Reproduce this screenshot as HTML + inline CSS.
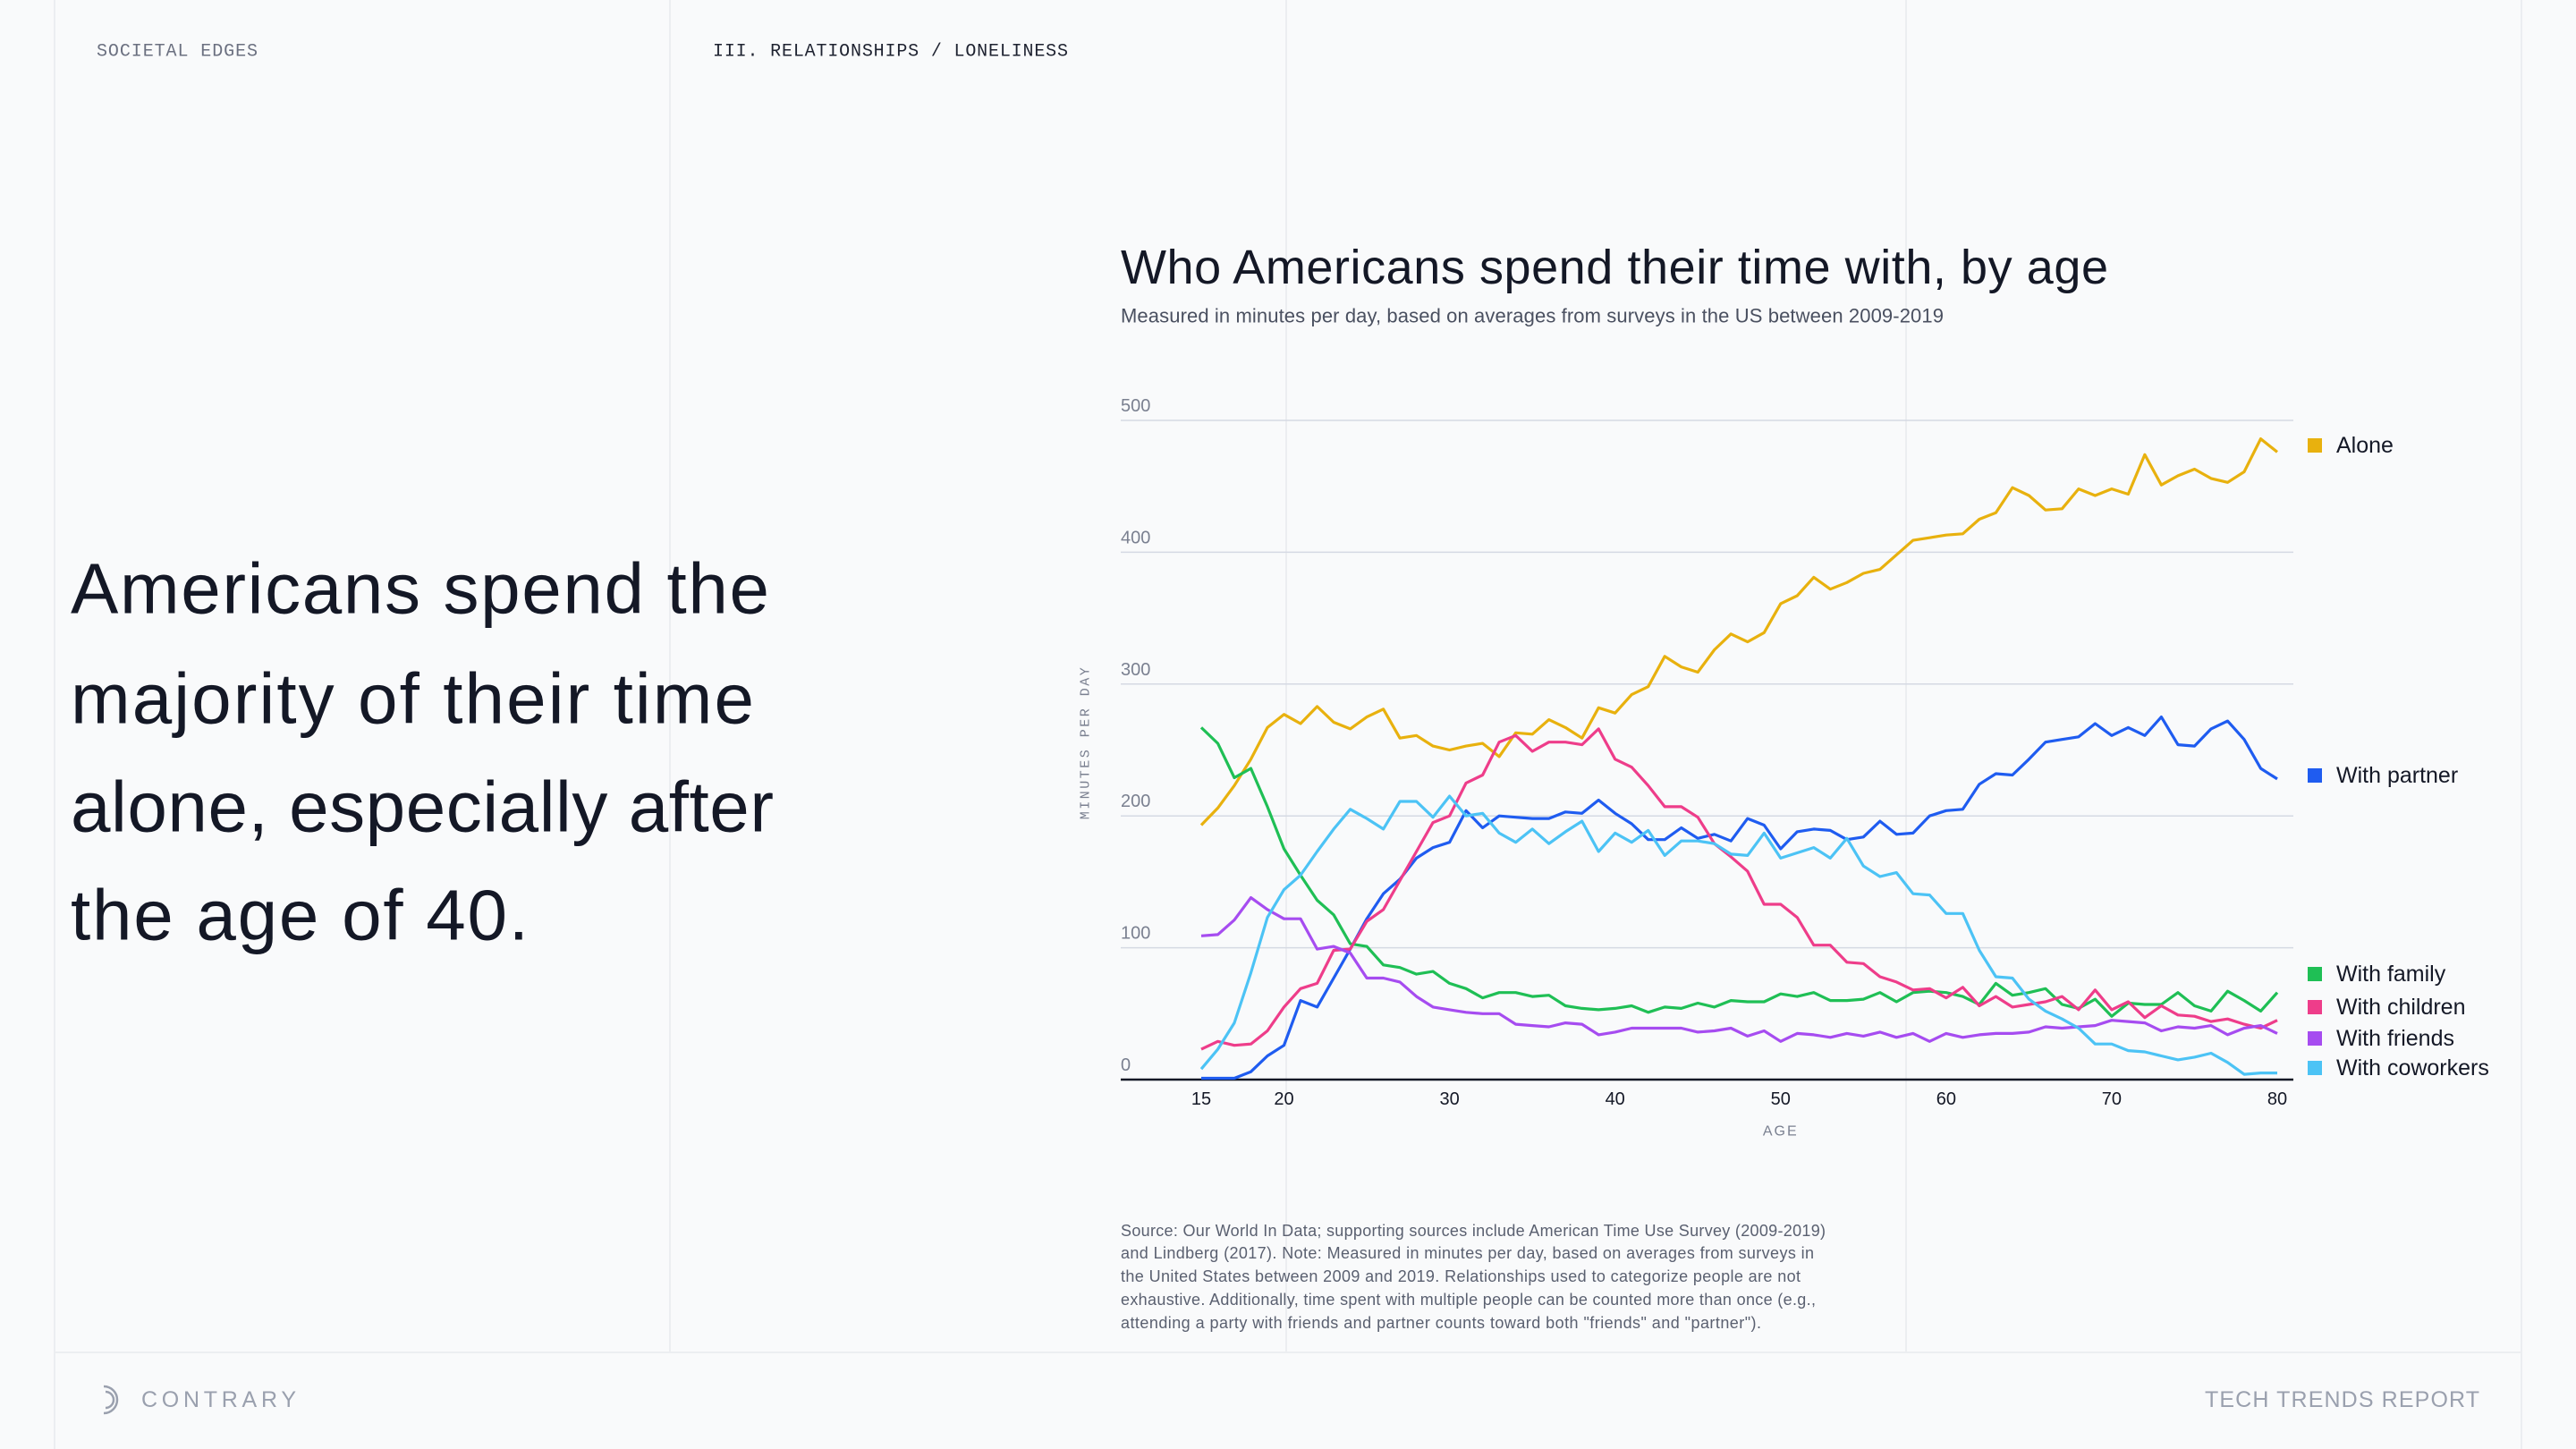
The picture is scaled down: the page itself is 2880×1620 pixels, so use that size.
<!DOCTYPE html>
<html><head><meta charset="utf-8"><style>
html,body{margin:0;padding:0;background:#f9fafb;}
svg{display:block;}
text{font-family:"Liberation Sans",sans-serif;}
.mono{font-family:"Liberation Mono",monospace;}
</style></head><body>
<svg id="page" width="2880" height="1620" viewBox="0 0 2880 1620" xmlns="http://www.w3.org/2000/svg">
<rect width="2880" height="1620" fill="#f9fafb"/>
<g stroke="#eceef1" stroke-width="2">
<line x1="61" y1="0" x2="61" y2="1620"/><line x1="749" y1="0" x2="749" y2="1512"/>
<line x1="1438" y1="0" x2="1438" y2="1512"/><line x1="2131" y1="0" x2="2131" y2="1512"/>
<line x1="2819" y1="0" x2="2819" y2="1620"/><line x1="61" y1="1512" x2="2819" y2="1512"/>
</g>
<text class="mono" x="108" y="58" dominant-baseline="central" font-size="20" fill="#6b7080" textLength="180">SOCIETAL EDGES</text>
<text class="mono" x="797" y="58" dominant-baseline="central" font-size="20" fill="#1e2230" textLength="397">III. RELATIONSHIPS / LONELINESS</text>
<g font-size="80" fill="#141826">
<text x="79" y="658" dominant-baseline="central" textLength="781">Americans spend the</text>
<text x="79" y="781" dominant-baseline="central" textLength="764">majority of their time</text>
<text x="79" y="902" dominant-baseline="central" textLength="786">alone, especially after</text>
<text x="79" y="1023" dominant-baseline="central" textLength="512">the age of 40.</text>
</g>
<text x="1253" y="299" dominant-baseline="central" font-size="54" fill="#141826" textLength="1104">Who Americans spend their time with, by age</text>
<text x="1253" y="353" dominant-baseline="central" font-size="22" fill="#4a5060" textLength="920">Measured in minutes per day, based on averages from surveys in the US between 2009-2019</text>
<g id="chart"></g>
<g font-size="18" fill="#5a6070">
<text x="1253" y="1376" dominant-baseline="central" textLength="788">Source: Our World In Data; supporting sources include American Time Use Survey (2009-2019)</text>
<text x="1253" y="1401" dominant-baseline="central" textLength="775">and Lindberg (2017). Note: Measured in minutes per day, based on averages from surveys in</text>
<text x="1253" y="1427" dominant-baseline="central" textLength="760">the United States between 2009 and 2019. Relationships used to categorize people are not</text>
<text x="1253" y="1453" dominant-baseline="central" textLength="777">exhaustive. Additionally, time spent with multiple people can be counted more than once (e.g.,</text>
<text x="1253" y="1479" dominant-baseline="central" textLength="716">attending a party with friends and partner counts toward both "friends" and "partner").</text>
</g>
<g fill="none" stroke="#9aa0ae" stroke-width="2.5">
<path d="M 116 1550 A 15 15 0 1 1 116 1580"/><path d="M 118 1556 A 9 9 0 1 1 118 1574"/>
</g>
<text x="158" y="1565" dominant-baseline="central" font-size="25" fill="#9aa0ae" textLength="173">CONTRARY</text>
<text x="2465" y="1565" dominant-baseline="central" font-size="25" fill="#9aa0ae" textLength="307">TECH TRENDS REPORT</text>
</svg>
<script>
const ages = [];
for (let a = 15; a <= 80; a++) ages.push(a);
const yTicks = [0,100,200,300,400,500];
const xTicks = [15,20,30,40,50,60,70,80];
const alone = [193,206,223,243,267,277,270,283,271,266,275,281,259,261,253,250,253,255,245,263,262,273,267,259,282,278,292,298,321,313,309,326,338,332,339,361,367,381,372,377,384,387,398,409,411,413,414,425,430,449,443,432,433,448,443,448,444,474,451,458,463,456,453,461,486,476];
const partner = [1,1,1,6,18,26,60,55,77,99,122,141,152,168,176,180,204,191,200,199,198,198,203,202,212,202,194,182,182,191,183,186,181,198,193,175,188,190,189,182,184,196,186,187,200,204,205,224,232,231,243,256,258,260,270,261,267,261,275,254,253,266,272,258,236,228];
const family = [267,255,229,236,207,175,155,136,125,103,101,87,85,80,82,73,69,62,66,66,63,64,56,54,53,54,56,51,55,54,58,55,60,59,59,65,63,66,60,60,61,66,59,66,67,66,63,57,73,64,66,69,57,54,61,48,58,57,57,66,56,52,67,60,52,66];
const children = [23,29,26,27,37,55,69,73,98,99,120,129,151,173,195,200,225,231,256,261,249,256,256,254,266,243,237,223,207,207,199,179,169,158,133,133,123,102,102,89,88,78,74,68,69,62,70,56,63,55,57,59,63,53,68,53,59,47,56,49,48,44,46,42,39,45];
const friends = [109,110,121,138,129,122,122,99,101,96,77,77,74,63,55,53,51,50,50,42,41,40,43,42,34,36,39,39,39,39,36,37,39,33,37,29,35,34,32,35,33,36,32,35,29,35,32,34,35,35,36,40,39,40,41,45,44,43,37,40,39,41,34,39,41,35];
const coworkers = [8,23,43,81,123,144,155,173,190,205,198,190,211,211,199,215,200,202,187,180,190,179,188,196,173,187,180,189,170,181,181,179,171,170,187,168,172,176,168,183,162,154,157,141,140,126,126,98,78,77,61,52,46,39,27,27,22,21,18,15,17,20,13,4,5,5];
const seriesNames = ["Alone","With partner","With family","With children","With friends","With coworkers"];
const seriesColors = ["#e8b10e","#1f5cf0","#1fbf55","#ee3d8a","#a64cf0","#4cc3f5"];
const seriesData = [alone, partner, family, children, friends, coworkers];
const legendY = [498,867,1089,1126,1161,1194];

const NS = "http://www.w3.org/2000/svg";
const g = document.getElementById('chart');
const X0 = 1343, X1 = 2546, Y0 = 1207, Y1 = 470;
const xs = a => X0 + (a - 15) * (X1 - X0) / 65;
const ys = v => Y0 - v * (Y0 - Y1) / 500;
function mk(tag, attrs, parent) {
  const e = document.createElementNS(NS, tag);
  for (const k in attrs) e.setAttribute(k, attrs[k]);
  (parent || g).appendChild(e);
  return e;
}
yTicks.forEach(t => {
  if (t > 0) {
    const l = mk('line', {x1:1253, x2:2564, y1:ys(t), y2:ys(t), stroke:'#d5d9e3', 'stroke-width':1.5});
    
    
  }
  const tx = mk('text', {x:1253, y:ys(t) - 16, 'font-size':20, fill:'#7a8090', 'dominant-baseline':'central'});
  tx.textContent = t;
  
  
});
const ax = mk('line', {x1:1253, x2:2564, y1:Y0, y2:Y0, stroke:'#141826', 'stroke-width':2.5});


xTicks.forEach(t => {
  const tx = mk('text', {x:xs(t), y:1229, 'font-size':20, fill:'#141826', 'text-anchor':'middle', 'dominant-baseline':'central'});
  tx.textContent = t;
  
  
});
const xt = mk('text', {x:xs(50), y:1265, 'font-size':16, fill:'#7a8090', 'text-anchor':'middle', 'dominant-baseline':'central', 'letter-spacing':2});
xt.textContent = 'AGE';


const yt = mk('text', {x:0, y:0, 'font-size':15, fill:'#7a8090', 'text-anchor':'middle', 'dominant-baseline':'central', 'letter-spacing':2.5, transform:'translate(1214,830) rotate(-90)', 'class':'mono'});
yt.textContent = 'MINUTES PER DAY';


seriesData.forEach((d, i) => {
  const pts = d.map((v, j) => xs(ages[j]).toFixed(1) + ',' + ys(v).toFixed(1)).join(' ');
  const pl = mk('polyline', {points:pts, fill:'none', stroke:seriesColors[i], 'stroke-width':3.2, 'stroke-linejoin':'round'});
  
  
  const sq = mk('rect', {x:2580, y:legendY[i] - 8, width:16, height:16, fill:seriesColors[i]});
  
  
  const lt = mk('text', {x:2612, y:legendY[i], 'font-size':25, fill:'#141826', 'dominant-baseline':'central'});
  lt.textContent = seriesNames[i];
  
  
});
</script>
</body></html>
